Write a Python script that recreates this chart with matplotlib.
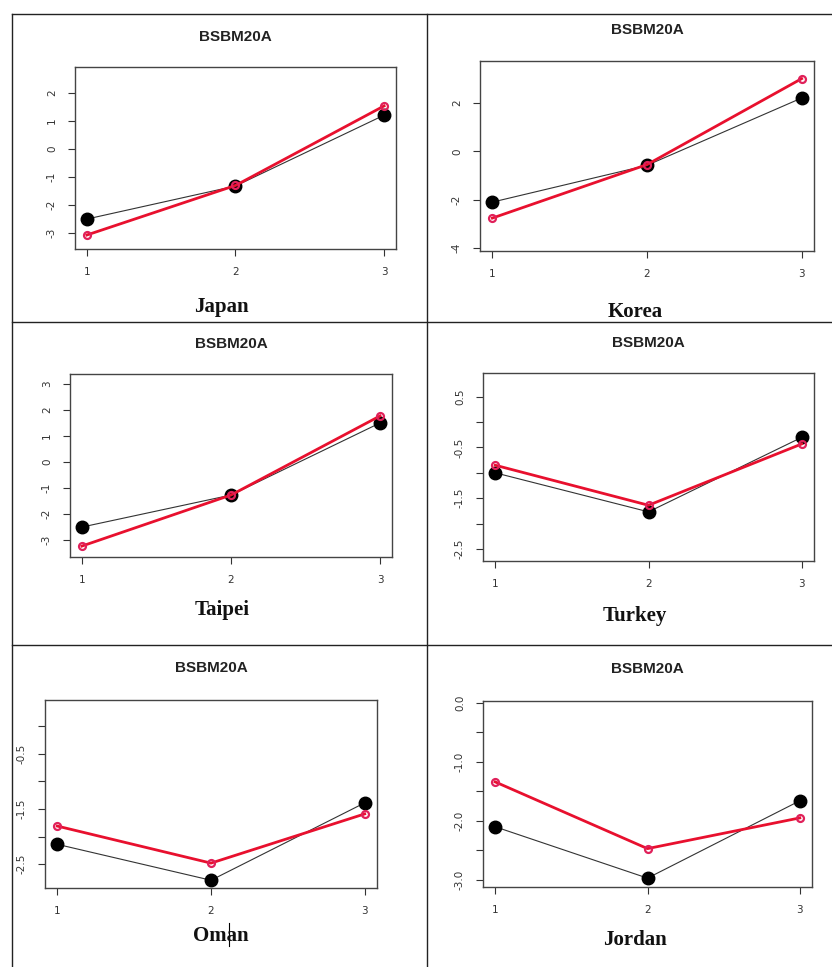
import matplotlib.pyplot as plt
import matplotlib.lines as mlines

# data
categories = [1, 2, 3]
countries = ["Japan", "Korea", "Taipei", "Turkey", "Oman", "Jordan"]
title = "BSBM20A"

japan_black = [-2.5, -1.32, 1.21]
japan_red = [-3.07, -1.30, 1.54]
korea_black = [-2.1, -0.58, 2.2]
korea_red = [-2.76, -0.55, 3.0]
taipei_black = [-2.5, -1.27, 1.5]
taipei_red = [-3.23, -1.27, 1.77]
turkey_black = [-1.0, -1.77, -0.3]
turkey_red = [-0.85, -1.64, -0.43]
oman_black = [-2.14, -2.79, -1.39]
oman_red = [-1.81, -2.48, -1.59]
jordan_black = [-2.1, -2.97, -1.66]
jordan_red = [-1.34, -2.47, -1.95]

black_series = [japan_black, korea_black, taipei_black, turkey_black, oman_black, jordan_black]
red_series = [japan_red, korea_red, taipei_red, turkey_red, oman_red, jordan_red]

W, H = 832, 967

# per panel layout in pixels: axes box (x0, y0, x1, y1), title y, label (x, y), ylim, yticks, ylabels
panels = [
    dict(box=(75, 67, 396, 249), ty=37, lx=221, ly=307, ylim=(-3.57, 2.93),
         yt=[-3, -2, -1, 0, 1, 2], yl=["-3", "-2", "-1", "0", "1", "2"]),
    dict(box=(480, 61, 814, 251), ty=30, lx=635, ly=312, ylim=(-4.12, 3.73),
         yt=[-4, -2, 0, 2], yl=["-4", "-2", "0", "2"]),
    dict(box=(70, 374, 392, 557), ty=344, lx=222, ly=610, ylim=(-3.65, 3.38),
         yt=[-3, -2, -1, 0, 1, 2, 3], yl=["-3", "-2", "-1", "0", "1", "2", "3"]),
    dict(box=(483, 373, 814, 561), ty=343, lx=635, ly=616, ylim=(-2.74, 0.97),
         yt=[-2.5, -2, -1.5, -1, -0.5, 0, 0.5], yl=["-2.5", "", "-1.5", "", "-0.5", "", "0.5"]),
    dict(box=(45, 700, 377, 888), ty=668, lx=221, ly=936, ylim=(-2.93, 0.47),
         yt=[-2.5, -2, -1.5, -1, -0.5, 0], yl=["-2.5", "", "-1.5", "", "-0.5", ""]),
    dict(box=(483, 701, 812, 887), ty=669, lx=635, ly=940, ylim=(-3.12, 0.03),
         yt=[-3, -2.5, -2, -1.5, -1, -0.5, 0], yl=["-3.0", "", "-2.0", "", "-1.0", "", "0.0"]),
]

fig = plt.figure(figsize=(W / 100, H / 100), dpi=100)
fig.patch.set_facecolor("white")

def fx(px):
    return px / W

def fy(py):
    return 1 - py / H

# table borders
for seg in [((12, 832), (14, 14)), ((12, 832), (322, 322)), ((12, 832), (645, 645)),
            ((12, 12), (14, 967)), ((427, 427), (14, 967))]:
    fig.add_artist(mlines.Line2D([fx(p) for p in seg[0]], [fy(p) for p in seg[1]],
                                 color="#222222", lw=1.0))

for i, p in enumerate(panels):
    x0, y0, x1, y1 = p["box"]
    ax = fig.add_axes([fx(x0), fy(y1), (x1 - x0) / W, (y1 - y0) / H])
    ax.plot(categories, black_series[i], color="#333333", lw=0.8, marker="o",
            markersize=9, markerfacecolor="black", markeredgecolor="black", zorder=2)
    ax.plot(categories, red_series[i], color="#e8102e", lw=2.0, marker="o",
            markersize=5, markerfacecolor="none", markeredgecolor="#e0205a",
            markeredgewidth=1.6, zorder=3)
    ax.set_xlim(0.92, 3.08)
    ax.set_ylim(*p["ylim"])
    ax.set_xticks(categories)
    ax.set_xticklabels([str(c) for c in categories])
    ax.set_yticks(p["yt"])
    ax.set_yticklabels(p["yl"], rotation=90, va="center")
    ax.tick_params(direction="out", length=5, width=0.8, colors="#333333",
                   labelsize=7.5, pad=8)
    for s in ax.spines.values():
        s.set_color("#444444")
        s.set_linewidth(1.0)
    cx = (x0 + x1) / 2
    fig.text(fx(cx), fy(p["ty"]), title, ha="center", va="center",
             fontsize=11, fontweight="bold", family="Liberation Sans", color="#222222")
    fig.text(fx(p["lx"]), fy(p["ly"]), countries[i], ha="center", va="center",
             fontsize=15, fontweight="bold", family="Liberation Serif", color="#111111")

# text cursor artifact in the Oman label
fig.add_artist(mlines.Line2D([fx(229), fx(229)], [fy(923), fy(946)], color="black", lw=0.8))

fig.savefig("out.png", dpi=100, facecolor="white")
